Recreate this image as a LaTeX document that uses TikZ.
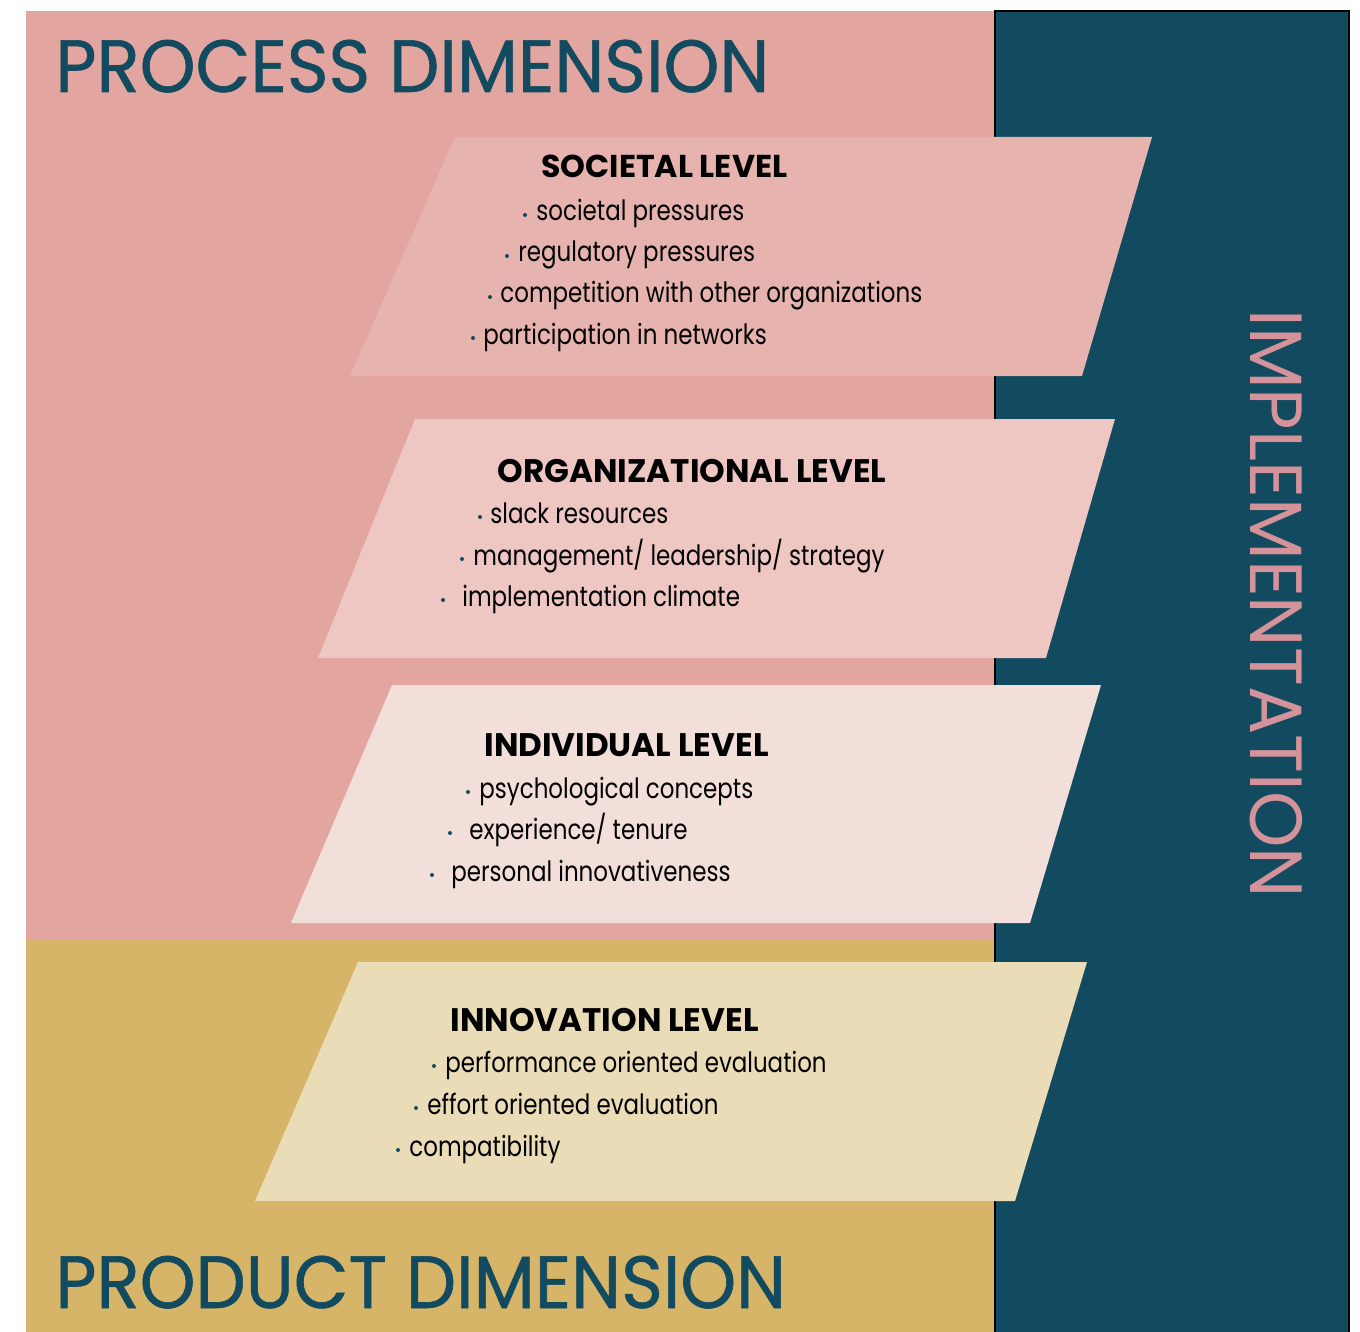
\documentclass[tikz,border=0pt]{standalone}
\usepackage{fontspec}
\setmainfont{Poppins}
\newfontfamily\titlefont[FakeStretch=0.96,FakeBold=0.8]{Poppins}
\newfontfamily\implfont[FakeStretch=0.97]{Poppins}
\newfontfamily\bodyfont[FakeStretch=0.82]{Poppins}
\usepackage{tikz}
\usetikzlibrary{positioning}
\usepackage{xcolor}

\definecolor{procpink}{HTML}{E3A59F}
\definecolor{prodgold}{HTML}{D6B568}
\definecolor{implteal}{HTML}{124A5F}
\definecolor{implpink}{HTML}{D4939A}
\definecolor{socfill}{HTML}{E6B3AE}
\definecolor{orgfill}{HTML}{EEC6C2}
\definecolor{indfill}{HTML}{F3DFDA}
\definecolor{innfill}{HTML}{EBDCB8}

\begin{document}
\begin{tikzpicture}[x=0.5pt,y=-0.5pt]
  \tikzstyle{dimtitle}=[anchor=base west,inner sep=0pt,text=implteal,font=\titlefont\fontsize{37}{37}\selectfont]
  \tikzstyle{levelhead}=[anchor=base west,inner sep=0pt,font=\bfseries\fontsize{16.3}{16.3}\selectfont]
  \tikzstyle{leveltext}=[anchor=base west,inner sep=0pt,font=\bodyfont\fontsize{14}{14}\selectfont]
  \tikzstyle{dot}=[circle,fill=implteal,inner sep=0pt,minimum size=2pt]

  \useasboundingbox (0,0) rectangle (1360,1332);

  % dimensions and the implementation column
  \fill[procpink] (26,11) rectangle (995,940);
  \fill[prodgold] (26,940) rectangle (995,1332);
  \fill[implteal] (995,11) rectangle (1349,1332);
  \draw[black,line width=1pt] (995,1332) -- (995,11) -- (1349,11) -- (1349,1332);

  \node[dimtitle] (proc_dim) at (55,92)   {PROCESS DIMENSION};
  \node[dimtitle] (prod_dim) at (55,1308) {PRODUCT DIMENSION};
  \node[dimtitle,font=\implfont\fontsize{37}{37}\selectfont,text=implpink,rotate=-90] (impl) at (1250,309) {IMPLEMENTATION};

  % the four levels
  \fill[socfill] (455,137) -- (1152,137) -- (1082,376) -- (350,376) -- cycle;
  \fill[orgfill] (415,419) -- (1115,419) -- (1046,658) -- (318,658) -- cycle;
  \fill[indfill] (392,685) -- (1101,685) -- (1030,923) -- (291,923) -- cycle;
  \fill[innfill] (358,962) -- (1087,962) -- (1015,1201) -- (255,1201) -- cycle;

  % societal level
  \node[levelhead,font=\bfseries\fontsize{15.8}{15.8}\selectfont] (soc_head) at (541,178) {SOCIETAL LEVEL};
  \node[leveltext] (soc_1) at (536,221) {societal pressures};
  \node[leveltext] (soc_2) at (518,262) {regulatory pressures};
  \node[leveltext] (soc_3) at (500,303) {competition with other organizations};
  \node[leveltext] (soc_4) at (483,344) {participation in networks};
  \node[dot] at (525,215) {};
  \node[dot] at (507,256) {};
  \node[dot] at (490,297) {};
  \node[dot] at (473,338) {};

  % organizational level
  \node[levelhead] (org_head) at (497,482) {ORGANIZATIONAL LEVEL};
  \node[leveltext] (org_1) at (490,523) {slack resources};
  \node[leveltext] (org_2) at (473,565) {management/ leadership/ strategy};
  \node[leveltext] (org_3) at (462,606) {implementation climate};
  \node[dot] at (480,517) {};
  \node[dot] at (462,559) {};
  \node[dot] at (443,600) {};

  % individual level
  \node[levelhead] (ind_head) at (484,756) {INDIVIDUAL LEVEL};
  \node[leveltext] (ind_1) at (479,798) {psychological concepts};
  \node[leveltext] (ind_2) at (469,839) {experience/ tenure};
  \node[leveltext] (ind_3) at (451,881) {personal innovativeness};
  \node[dot] at (468,792) {};
  \node[dot] at (450,833) {};
  \node[dot] at (432,875) {};

  % innovation level
  \node[levelhead] (inn_head) at (450,1031) {INNOVATION LEVEL};
  \node[leveltext] (inn_1) at (445,1072) {performance oriented evaluation};
  \node[leveltext] (inn_2) at (427,1114) {effort oriented evaluation};
  \node[leveltext] (inn_3) at (409,1156) {compatibility};
  \node[dot] at (434,1066) {};
  \node[dot] at (416,1108) {};
  \node[dot] at (398,1150) {};
\end{tikzpicture}
\end{document}
